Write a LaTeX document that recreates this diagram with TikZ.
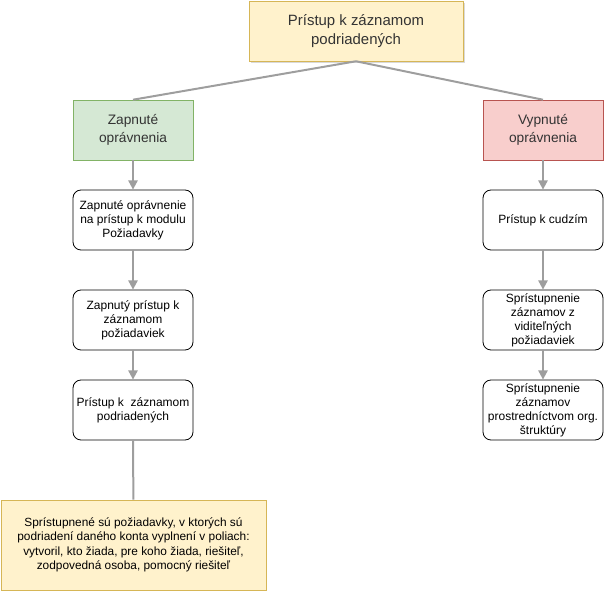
\documentclass[tikz,border=0pt]{standalone}
\usepackage{fontspec}
\setmainfont{Liberation Sans}
\usepackage{xcolor}
\usetikzlibrary{arrows.meta, shadows}
\definecolor{yellowfill}{HTML}{FFF2CC}
\definecolor{yellowline}{HTML}{D6B656}
\definecolor{greenfill}{HTML}{D5E8D4}
\definecolor{greenline}{HTML}{82B366}
\definecolor{redfill}{HTML}{F8CECC}
\definecolor{redline}{HTML}{B85450}
\definecolor{linkgray}{HTML}{9E9E9E}
\definecolor{textgray}{HTML}{333333}
\tikzset{
    head/.style={draw=yellowline, fill=yellowfill, text=textgray, align=center,
        minimum width=160.5pt, minimum height=45pt, inner sep=0pt,
        font=\fontsize{11.2}{13.7}\selectfont,
        drop shadow={shadow xshift=1.5pt, shadow yshift=-1.5pt, fill=black, opacity=0.15}},
    branch/.style={draw, align=center, minimum width=90pt, minimum height=45pt,
        inner sep=0pt, text=textgray, font=\fontsize{10.3}{13.5}\selectfont},
    stepbox/.style={draw, rounded corners=6pt, align=center,
        minimum width=90pt, minimum height=45pt, inner sep=0pt, line width=0.6pt,
        font=\fontsize{9}{10.5}\selectfont},
    note/.style={draw=yellowline, fill=yellowfill, align=center,
        minimum width=198.75pt, minimum height=67.5pt, inner sep=0pt,
        font=\fontsize{8.9}{10.9}\selectfont},
    link/.style={draw=linkgray, line width=1.5pt},
    flow/.style={link, -{Triangle[open, width=7pt, length=7pt, fill=linkgray]}}
}
\begin{document}
\begin{tikzpicture}[x=0.75pt, y=-0.75pt]
    \useasboundingbox (0, 0) rectangle (604, 591);

    \node[head] at (356, 31)   (top) {Prístup k záznamom\\podriadených};

    \node[branch, fill=greenfill, draw=greenline] at (133, 130)  (on)  {Zapnuté\\oprávnenia};
    \node[branch, fill=redfill, draw=redline]     at (543, 130)  (off) {Vypnuté\\oprávnenia};

    \node[stepbox] at (133, 220)  (on1) {Zapnuté oprávnenie\\na prístup k modulu\\Požiadavky};
    \node[stepbox] at (133, 320)  (on2) {Zapnutý prístup k\\záznamom\\požiadaviek};
    \node[stepbox] at (133, 410)  (on3) {Prístup k\ \ záznamom\\podriadených};

    \node[stepbox] at (543, 220)  (off1) {Prístup k cudzím};
    \node[stepbox] at (543, 320)  (off2) {Sprístupnenie\\záznamov z\\viditeľných\\požiadaviek};
    \node[stepbox] at (543, 410)  (off3) {Sprístupnenie\\záznamov\\prostredníctvom org.\\štruktúry};

    \node[note] at (133.5, 545) (res) {Sprístupnené sú požiadavky, v ktorých sú\\podriadení daného konta vyplnení v poliach:\\vytvoril, kto žiada, pre koho žiada, riešiteľ,\\zodpovedná osoba, pomocný riešiteľ};

    \draw [link] (top.south) -- (on.north);
    \draw [link] (top.south) -- (off.north);

    \draw [flow] (on) -- (on1);
    \draw [flow] (on1) -- (on2);
    \draw [flow] (on2) -- (on3);
    \draw [link] (on3) -- (res);

    \draw [flow] (off) -- (off1);
    \draw [flow] (off1) -- (off2);
    \draw [flow] (off2) -- (off3);
\end{tikzpicture}
\end{document}
